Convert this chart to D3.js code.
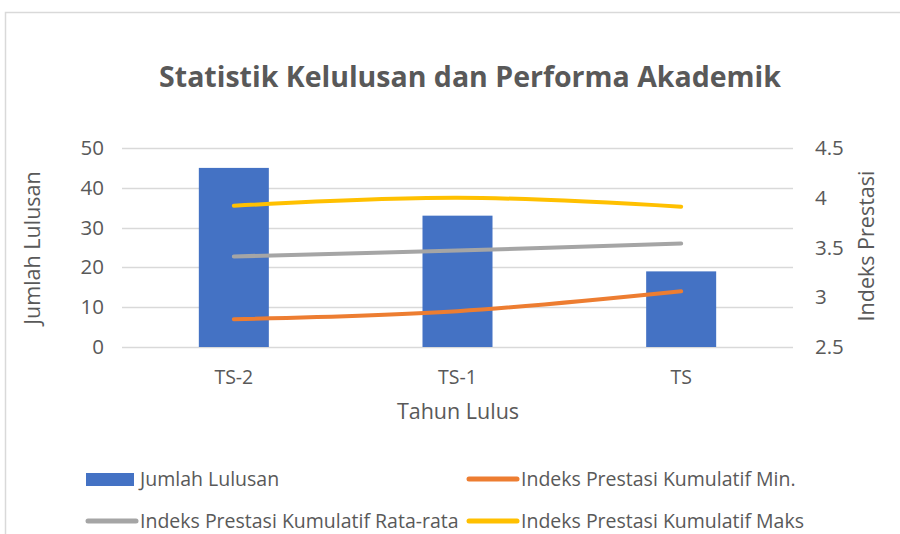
<!DOCTYPE html>
<html>
<head>
<meta charset="utf-8">
<script src="https://cdn.jsdelivr.net/npm/d3@7"></script>
<style>
  body { margin: 0; background: #fff; }
  svg { display: block; font-family: "Open Sans", sans-serif; }
</style>
</head>
<body>
<svg id="chart" width="900" height="534"></svg>
<script>
const categories = ["TS-2", "TS-1", "TS"];
const jumlahLulusan = [45, 33, 19];
const ipkMin = [2.78, 2.86, 3.06];
const ipkRata = [3.41, 3.47, 3.54];
const ipkMaks = [3.92, 4.00, 3.91];
const leftTicks = [0, 10, 20, 30, 40, 50];
const rightTicks = [2.5, 3, 3.5, 4, 4.5];
const seriesNames = ["Jumlah Lulusan", "Indeks Prestasi Kumulatif Min.", "Indeks Prestasi Kumulatif Rata-rata", "Indeks Prestasi Kumulatif Maks"];
const colors = ["#4472C4", "#ED7D31", "#A5A5A5", "#FFC000"];

const svg = d3.select("#chart");
const W = 900, H = 534;
const plot = { left: 122, right: 793, top: 148, bottom: 347 };
const textColor = "#595959";

// chart border (reference is cropped: only top and left edges visible)
svg.append("path").attr("d", `M5.5,${H} V12.5 H${W}`).attr("fill", "none").attr("stroke", "#d9d9d9").attr("stroke-width", 1.5);

// title
svg.append("text").attr("x", 470).attr("y", 87).attr("text-anchor", "middle")
  .attr("font-size", 28.5).attr("font-weight", "bold").attr("fill", textColor)
  .text("Statistik Kelulusan dan Performa Akademik");

const x = d3.scaleBand().domain(categories).range([plot.left, plot.right]).padding(0);
const yL = d3.scaleLinear().domain([0, 50]).range([plot.bottom, plot.top]);
const yR = d3.scaleLinear().domain([2.5, 4.5]).range([plot.bottom, plot.top]);

// gridlines
svg.append("g").selectAll("line").data(leftTicks).join("line")
  .attr("x1", plot.left).attr("x2", plot.right)
  .attr("y1", d => Math.round(yL(d)) + 0.5).attr("y2", d => Math.round(yL(d)) + 0.5)
  .attr("stroke", "#d9d9d9").attr("stroke-width", 1.3);

// left axis
const axL = svg.append("g").attr("transform", `translate(${plot.left - 18},0)`)
  .call(d3.axisLeft(yL).tickValues(leftTicks).tickSize(0).tickPadding(0));
axL.select(".domain").remove();
axL.selectAll("text").attr("font-size", 20.5).attr("fill", textColor).attr("font-family", "Open Sans, sans-serif");

// right axis
const axR = svg.append("g").attr("transform", `translate(${plot.right + 22},0)`)
  .call(d3.axisRight(yR).tickValues(rightTicks).tickFormat(d3.format("")).tickSize(0).tickPadding(0));
axR.select(".domain").remove();
axR.selectAll("text").attr("font-size", 20.5).attr("fill", textColor).attr("font-family", "Open Sans, sans-serif");

// x axis
const axX = svg.append("g").attr("transform", `translate(0,${plot.bottom + 13})`)
  .call(d3.axisBottom(x).tickSize(0).tickPadding(10));
axX.select(".domain").remove();
axX.selectAll("text").attr("font-size", 19.5).attr("fill", textColor).attr("font-family", "Open Sans, sans-serif");

// axis titles
svg.append("text").attr("transform", `translate(40,248) rotate(-90)`).attr("text-anchor", "middle")
  .attr("font-size", 21.5).attr("fill", textColor).text("Jumlah Lulusan");
svg.append("text").attr("transform", `translate(874,246) rotate(-90)`).attr("text-anchor", "middle")
  .attr("font-size", 21.5).attr("fill", textColor).text("Indeks Prestasi");
svg.append("text").attr("x", 458).attr("y", 419).attr("text-anchor", "middle")
  .attr("font-size", 21.5).attr("fill", textColor).text("Tahun Lulus");

// bars
const barW = x.bandwidth() * 0.313;
svg.append("g").selectAll("rect").data(jumlahLulusan).join("rect")
  .attr("x", (d, i) => x(categories[i]) + x.bandwidth() / 2 - barW / 2)
  .attr("width", barW)
  .attr("y", d => yL(d)).attr("height", d => yL(0) - yL(d))
  .attr("fill", colors[0]);

// lines
const line = d3.line()
  .x((d, i) => x(categories[i]) + x.bandwidth() / 2)
  .y(d => yR(d))
  .curve(d3.curveCatmullRom.alpha(0.5));
[ipkMin, ipkRata, ipkMaks].forEach((s, k) => {
  svg.append("path").datum(s).attr("d", line)
    .attr("fill", "none").attr("stroke", colors[k + 1]).attr("stroke-width", 4)
    .attr("stroke-linecap", "round").attr("stroke-linejoin", "round");
});

// legend
const legPos = [[86, 479], [467, 479], [86, 521], [467, 521]];
seriesNames.forEach((name, i) => {
  const [lx, ly] = legPos[i];
  if (i === 0) {
    svg.append("rect").attr("x", lx).attr("y", ly - 6).attr("width", 48).attr("height", 13).attr("fill", colors[0]);
  } else {
    svg.append("line").attr("x1", lx + 2).attr("x2", lx + 50).attr("y1", ly).attr("y2", ly)
      .attr("stroke", colors[i]).attr("stroke-width", 5).attr("stroke-linecap", "round");
  }
  svg.append("text").attr("x", lx + 54).attr("y", ly).attr("dy", "0.35em")
    .attr("font-size", 19.5).attr("fill", textColor).text(name);
});
</script>
</body>
</html>
